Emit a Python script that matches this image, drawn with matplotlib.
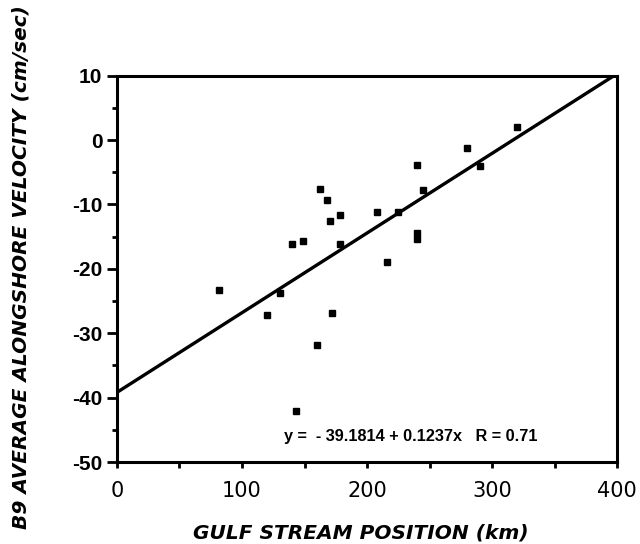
import matplotlib
matplotlib.use("Agg")
import matplotlib.pyplot as plt
import numpy as np
from matplotlib.ticker import MultipleLocator

plt.rcParams['axes.unicode_minus'] = False

# Data
gs_position_km = [82, 120, 130, 140, 143, 149, 160, 162, 168, 170, 172, 178, 178,
                  208, 216, 225, 240, 240, 240, 245, 280, 290, 320]
velocity_cms = [-23.3, -27.2, -23.8, -16.2, -42.0, -15.7, -31.8, -7.6, -9.3, -12.5,
                -26.9, -11.7, -16.2, -11.1, -19.0, -11.2, -3.9, -14.5, -15.3, -7.8,
                -1.3, -4.0, 2.1]
fit_intercept = -39.1814
fit_slope = 0.1237
fit_x = [0, 400]

x_ticks = [0, 100, 200, 300, 400]
y_ticks = [-50, -40, -30, -20, -10, 0, 10]

fig = plt.figure(figsize=(6.4, 5.44), dpi=100)
ax = fig.add_axes([0.1828, 0.1507, 0.7813, 0.7102])

ax.plot(gs_position_km, velocity_cms, linestyle='none', marker='s',
        markersize=5, color='black', zorder=3)
fx = np.array(fit_x, dtype=float)
ax.plot(fx, fit_intercept + fit_slope * fx, color='black', linewidth=2.4,
        solid_capstyle='butt', zorder=2)

ax.set_xlim(0, 400)
ax.set_ylim(-50, 10)
ax.set_xticks(x_ticks)
ax.set_yticks(y_ticks)
ax.xaxis.set_minor_locator(MultipleLocator(50))
ax.yaxis.set_minor_locator(MultipleLocator(5))

for s in ax.spines.values():
    s.set_linewidth(2.2)

ax.tick_params(axis='both', which='both', direction='out', width=2, color='black')
ax.tick_params(axis='y', which='major', length=7, pad=3.5)
ax.tick_params(axis='y', which='minor', length=3.6)
ax.tick_params(axis='x', which='major', length=4, pad=10)
ax.tick_params(axis='x', which='minor', length=4)

for lbl in ax.get_yticklabels():
    lbl.set_fontfamily('Liberation Sans')
    lbl.set_fontweight('bold')
    lbl.set_fontsize(15)
for lbl in ax.get_xticklabels():
    lbl.set_fontfamily('DejaVu Sans')
    lbl.set_fontsize(15)

ax.set_xlabel('GULF STREAM POSITION (km)', fontfamily='DejaVu Sans',
              fontweight='bold', fontstyle='italic', fontsize=14.5, va='center')
ax.xaxis.set_label_coords(0.488, -0.184)
ax.set_ylabel('B9 AVERAGE ALONGSHORE VELOCITY (cm/sec)', fontfamily='DejaVu Sans',
              fontweight='bold', fontstyle='italic', fontsize=14.5, va='center')
ax.yaxis.set_label_coords(-0.192, 0.505)

ax.text(0.588, 0.065, 'y =  - 39.1814 + 0.1237x   R = 0.71', transform=ax.transAxes,
        ha='center', va='center', fontfamily='Liberation Sans', fontweight='bold',
        fontsize=11.7)

fig.savefig('out.png', dpi=100)
